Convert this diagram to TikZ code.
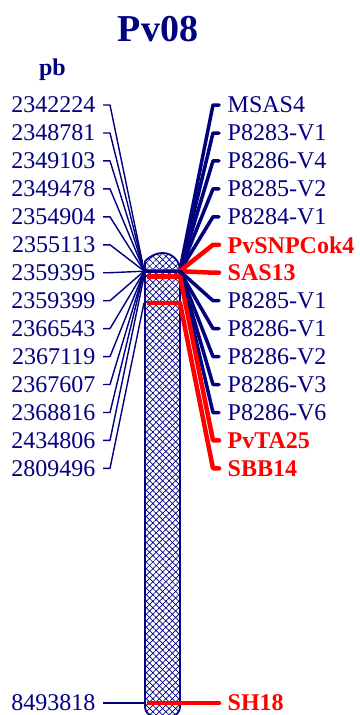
\documentclass[tikz,border=0pt]{standalone}
\usepackage{fontspec}
\setmainfont{Liberation Serif}
\usetikzlibrary{patterns.meta, positioning, calc}
\definecolor{mapblue}{RGB}{0,0,128}
\definecolor{mapred}{RGB}{255,0,0}
\pgfdeclarelayer{background}
\pgfsetlayers{background,main}
\tikzset{
    chrom/.style={draw=mapblue, line width=1.8pt, preaction={fill=white},
      pattern={Hatch[angle=45, distance=4.6pt, line width=0.7pt]}, pattern color=mapblue},
    poslabel/.style={anchor=east, inner sep=0pt, text=mapblue, font=\fontsize{24}{28}\selectfont},
    posarm/.style={draw=mapblue, line width=1.4pt, line join=round},
    navymk/.style={anchor=west, inner sep=0pt, text=mapblue, font=\fontsize{24}{28}\selectfont},
    redmk/.style={anchor=west, inner sep=0pt, text=mapred, font=\fontsize{24}{28}\selectfont\bfseries},
    navymk tick/.style={draw=mapblue, line width=2pt},
    redmk tick/.style={draw=mapred, line width=4.5pt, shorten <=3pt},
    navymk arm/.style={draw=mapblue, line width=3.5pt, line cap=round, line join=round},
    redmk arm/.style={draw=mapred, line width=4.5pt, line cap=round, line join=round},
}

\begin{document}
\begin{tikzpicture}[x=1pt, y=-1pt]
    \useasboundingbox (0,0) rectangle (359,715);

    \node[anchor=base, text=mapblue, font=\fontsize{38}{40}\selectfont\bfseries] (title) at (158,41.5) {Pv08};
    \node[anchor=base, text=mapblue, font=\fontsize{24}{28}\selectfont\bfseries] (unit) at (52.5,75) {pb};

    % linkage group body (y runs downwards, so the cap arc goes 180 -> 360)
    \begin{pgfonlayer}{background}
      \draw[chrom] (145,270.5) arc[start angle=180, end angle=360, radius=17.5]
        [rounded corners=9pt] -- (180,716) -- (145,716) -- cycle;
    \end{pgfonlayer}

    % position / marker / style / label y / locus y
    \foreach \i/\pos/\mk/\kind/\ylab/\yloc in {
        1/2342224/MSAS4/navymk/105/270.0,
        2/2348781/P8283-V1/navymk/133/270.5,
        3/2349103/P8286-V4/navymk/160.9/270.5,
        4/2349478/P8285-V2/navymk/188.9/270.5,
        5/2354904/P8284-V1/navymk/216.8/270.9,
        6/2355113/PvSNPCok4/redmk/244.8/270.9,
        7/2359395/SAS13/redmk/272.7/271.2,
        8/2359399/P8285-V1/navymk/300.7/271.2,
        9/2366543/P8286-V1/navymk/328.6/271.7,
        10/2367119/P8286-V2/navymk/356.6/271.8,
        11/2367607/P8286-V3/navymk/384.5/271.8,
        12/2368816/P8286-V6/navymk/412.5/271.9,
        13/2434806/PvTA25/redmk/440.4/276.5,
        14/2809496/SBB14/redmk/468.4/302.9,
        15/8493818/SH18/redmk/703/703}
    {
      \node[poslabel] (p\i) at (95.5,\ylab) {\pos};
      \node[\kind] (m\i) at (227.5,\ylab) {\mk};
      \coordinate (cl\i) at (144,\yloc);
      \coordinate (cr\i) at (180,\yloc);
      \draw[\kind\space tick] (cl\i) -- (cr\i);
      \draw[posarm] ([xshift=7.5pt]p\i.east) -- ++(7,0) -- (cl\i);
      \draw[\kind\space arm] (cr\i) -- ([xshift=-14.5pt]m\i.west) -- ([xshift=-8.5pt]m\i.west);
    }
\end{tikzpicture}
\end{document}
